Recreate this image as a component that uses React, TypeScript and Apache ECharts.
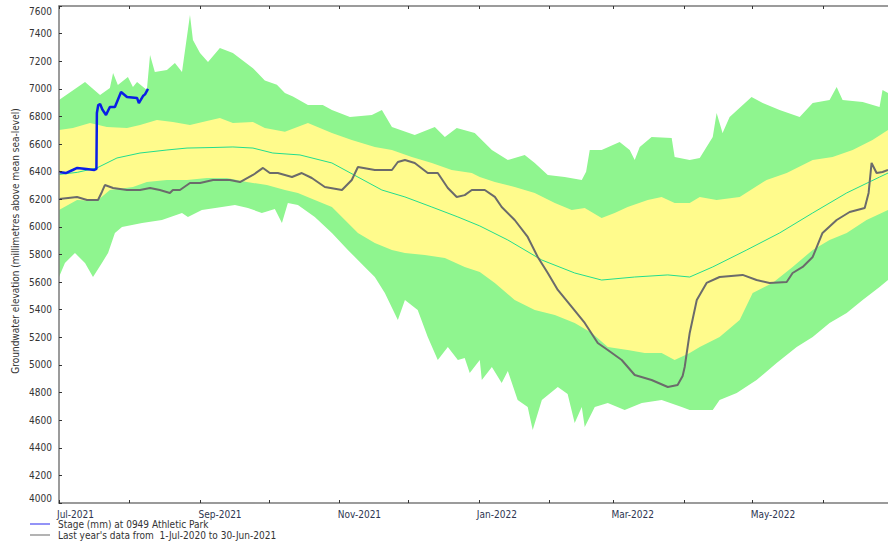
import React, { useEffect, useRef } from "react";
import * as echarts from "echarts";

// x values are days since 1-Jul-2021
const monthStarts = [0, 31, 62, 92, 123, 153, 184, 215, 243, 274, 304, 335];
const monthLabels = ["Jul-2021", "Aug-2021", "Sep-2021", "Oct-2021", "Nov-2021", "Dec-2021", "Jan-2022", "Feb-2022", "Mar-2022", "Apr-2022", "May-2022", "Jun-2022"];
const labelledMonths = [0, 62, 123, 184, 243, 304];

const greenUpper: [number, number][] = [
  [0, 6919], [11.4, 7050], [18, 6955], [22.3, 7006], [23.7, 7115], [25.8, 7028], [30.2, 7086], [32.4, 7013],
  [34.2, 7050], [38.5, 6992], [39.9, 7245], [42, 7122], [47.3, 7136], [50.8, 7187], [53.9, 7122], [57.4, 7535],
  [58.7, 7354], [61.8, 7260], [65.3, 7194], [70.5, 7296], [76.2, 7260], [85, 7150], [90.2, 7060], [95.5, 7030],
  [99, 6970], [102.5, 6945], [109.1, 6883], [115.6, 6883], [119.6, 6847], [127.5, 6796], [137.1, 6811],
  [141.5, 6847], [145.9, 6724], [155.9, 6666], [164.7, 6724], [169.1, 6651], [174.3, 6716], [182.2, 6680],
  [189.7, 6557], [196.7, 6485], [204.1, 6521], [208.5, 6463], [214.2, 6376], [221.6, 6361], [229.1, 6340],
  [231, 6400], [232.6, 6557], [237.8, 6557], [245.7, 6615], [250.1, 6557], [252.3, 6485], [254.5, 6579],
  [259.7, 6651], [268.5, 6644], [269.8, 6506], [276.4, 6485], [280.8, 6499], [286.5, 6651], [288.2, 6825],
  [290.8, 6680], [293.9, 6796], [303.5, 6941], [308.4, 6897], [315.8, 6847], [324.6, 6796], [330.3, 6897],
  [337.7, 6919], [340.8, 7013], [343.4, 6919], [352.2, 6905], [359.6, 6868], [360.9, 6992], [363.3, 6970],
];

const yellowUpper: [number, number][] = [
  [0, 6702], [6.1, 6716], [13.6, 6753], [21, 6724], [29.8, 6716], [35.5, 6738], [42.9, 6774], [49.9, 6760],
  [57.4, 6738], [64.8, 6767], [70.5, 6789], [76.2, 6753], [85, 6760], [90.2, 6716], [99, 6690], [109.1, 6753],
  [119.6, 6680], [128.3, 6629], [138.4, 6579], [145.9, 6557], [154.6, 6506], [163.4, 6463], [172.1, 6412],
  [180.9, 6390], [184.4, 6361], [191, 6325], [199.7, 6289], [208.5, 6246], [217.3, 6173], [224.7, 6122],
  [230.4, 6137], [237.8, 6064], [243.5, 6101], [249.2, 6144], [258, 6195], [264.1, 6217], [269.8, 6173],
  [276.4, 6173], [280.8, 6217], [288.2, 6195], [298.3, 6217], [310.1, 6340], [318.9, 6390], [330.3, 6485],
  [339, 6506], [347.8, 6557], [356.5, 6629], [363.3, 6702],
];

const yellowLower: [number, number][] = [
  [0, 6122], [7.9, 6195], [16.6, 6188], [22.3, 6267], [32.4, 6289], [38.5, 6325], [47.3, 6340], [56.1, 6340],
  [64.8, 6354], [73.6, 6354], [82.3, 6325], [91.1, 6303], [99, 6267], [104.7, 6246], [112.1, 6195],
  [119.6, 6144], [125.3, 6050], [131, 5956], [138.4, 5883], [145.9, 5833], [151.6, 5811], [160.3, 5797],
  [169.1, 5775], [177.8, 5710], [184.4, 5673], [191, 5594], [199.7, 5471], [208.5, 5398], [217.3, 5362],
  [226, 5304], [233.5, 5232], [240.5, 5130], [249.2, 5108], [256.7, 5087], [264.1, 5087], [269.8, 5036],
  [276.4, 5087], [280.8, 5130], [289.5, 5203], [298.3, 5326], [304, 5521], [312.7, 5594], [321.5, 5710],
  [330.3, 5833], [337.7, 5905], [345.2, 5956], [353.9, 6050], [363.3, 6122],
];

const greenLower: [number, number][] = [
  [0, 5637], [2.6, 5739], [7, 5811], [11.4, 5739], [14.9, 5637], [18.8, 5739], [21.5, 5811], [24.5, 5956],
  [27.6, 5999], [36.4, 6028], [45.1, 6050], [53.9, 6101], [56.5, 6072], [62.6, 6122], [71.4, 6144],
  [77.1, 6159], [82.8, 6137], [88.9, 6101], [94.6, 6130], [97.7, 6028], [100.3, 6173], [104.7, 6159],
  [112.1, 6072], [119.6, 5956], [126.6, 5833], [134, 5710], [138.4, 5637], [142.8, 5521], [148.5, 5326],
  [151.6, 5471], [157.2, 5398], [161.6, 5203], [166, 5036], [170.4, 5130], [174.8, 5036], [177.8, 5050],
  [180, 4942], [184.4, 5036], [185.3, 4891], [189.7, 4985], [194, 4869], [196.7, 4956], [201, 4746],
  [205.4, 4696], [207.6, 4529], [211.6, 4746], [218.6, 4840], [222.9, 4790], [226, 4580], [229.1, 4696],
  [230.4, 4551], [234.8, 4696], [240.5, 4724], [247.9, 4674], [255.4, 4724], [264.1, 4746], [272.9, 4696],
  [276.4, 4674], [286.5, 4674], [289.5, 4746], [297, 4797], [305.7, 4891], [314.5, 5014], [323.3, 5130],
  [330.3, 5203], [337.7, 5304], [345.2, 5376], [352.2, 5471], [359.6, 5565], [363.3, 5615],
];

const median: [number, number][] = [
  [0, 6380], [8, 6395], [16.6, 6427], [25.4, 6499], [35.5, 6535], [47.3, 6557], [56.1, 6571], [67.5, 6575],
  [76.2, 6579], [85, 6571], [93.7, 6535], [105.6, 6521], [119.6, 6463], [131, 6361], [141.5, 6267],
  [151.6, 6217], [163.4, 6144], [174.8, 6072], [184.4, 6007], [196.7, 5905], [211.6, 5760], [226, 5666],
  [237.8, 5615], [252.3, 5637], [266.8, 5652], [276.4, 5637], [286.5, 5710], [301.4, 5833], [315.8, 5956],
  [330.3, 6101], [345.2, 6246], [359.6, 6361], [363.3, 6390],
];

const lastYear: [number, number][] = [
  [0, 6202], [4, 6210], [7.9, 6217], [12.3, 6195], [17.1, 6195], [18.8, 6253], [20.1, 6303], [23.7, 6282],
  [29.8, 6267], [35.5, 6267], [39.9, 6282], [44.2, 6267], [48.6, 6246], [49.9, 6267], [53, 6267], [57.4, 6318],
  [61.8, 6318], [67.5, 6340], [74.9, 6340], [79.3, 6325], [85, 6376], [89.4, 6427], [92.4, 6390], [95.9, 6390],
  [102.1, 6361], [106.4, 6390], [110.8, 6354], [116.5, 6289], [124, 6267], [128.3, 6340], [131, 6434],
  [138.4, 6412], [145.9, 6412], [148.5, 6470], [151.6, 6485], [155.9, 6463], [161.6, 6390], [166, 6390],
  [170.4, 6282], [174.3, 6217], [177.8, 6230], [180.9, 6267], [186.6, 6267], [191, 6217], [194, 6144],
  [199.7, 6050], [205.4, 5927], [209.8, 5782], [214.2, 5666], [218.6, 5543], [224.7, 5420], [230.4, 5304],
  [236.1, 5159], [240.5, 5108], [246.6, 5036], [252.3, 4927], [259.7, 4891], [266.8, 4840], [271.1, 4855],
  [273.3, 4920], [274.2, 4985], [276.4, 5232], [279.5, 5471], [283.8, 5594], [289.5, 5637], [299.6, 5652],
  [305.7, 5615], [311.4, 5594], [318.9, 5601], [321.5, 5666], [325.9, 5710], [330.3, 5782], [334.6, 5956],
  [340.8, 6050], [346.5, 6108], [353.1, 6137], [354.8, 6246], [356.1, 6463], [358.3, 6390], [360.9, 6398],
  [363.3, 6412],
];

const stage: [number, number][] = [
  [0, 6398], [3, 6390], [6, 6412], [8, 6427], [12, 6420], [15.5, 6412], [16.4, 6420], [16.6, 6825],
  [17.2, 6883], [18, 6890], [19, 6850], [20.6, 6811], [22.3, 6868], [24.5, 6868], [26.3, 6941], [27.2, 6977],
  [29.8, 6941], [34.2, 6934], [35, 6897], [36.8, 6948], [37.7, 6960], [39, 7000],
];

const stageName = "Stage (mm) at 0949 Athletic Park";
const lastYearName = "Last year's data from  1-Jul-2020 to 30-Jun-2021";
const yTitle = "Groundwater elevation (millimetres above mean sea-level)";

const FONT = '"DejaVu Sans Condensed", "Liberation Sans", sans-serif';
const GREEN = "#8ff58f";
const YELLOW = "#fffb8c";

function band(name: string, data: [number, number][], color: string) {
  return {
    name,
    type: "line",
    data,
    symbol: "none",
    silent: true,
    lineStyle: { width: 0, opacity: 0 },
    areaStyle: { color, opacity: 1, origin: "start" },
    z: 1,
  };
}

function legendFor(name: string, top: number) {
  return {
    data: [name],
    left: 30,
    top,
    padding: 0,
    icon: "rect",
    itemWidth: 20,
    itemHeight: 1.5,
    selectedMode: false,
    textStyle: { fontFamily: FONT, fontSize: 10, color: "#333", padding: [0, 0, 0, 3] },
  };
}

export default function App() {
  const ref = useRef<HTMLDivElement>(null);
  useEffect(() => {
    if (!ref.current) return;
    const chart = echarts.init(ref.current, null, { renderer: "svg" });
    const axisColor = "#7a7a7a";
    chart.setOption({
      animation: false,
      backgroundColor: "#ffffff",
      grid: { left: 59, right: 0, top: 6, bottom: 42, show: false },
      legend: [legendFor(stageName, 519), legendFor(lastYearName, 530)],
      xAxis: [
        {
          type: "value",
          min: 0,
          max: 363.3,
          position: "bottom",
          z: 10,
          splitLine: { show: false },
          axisLine: { lineStyle: { color: axisColor, width: 1.5 } },
          axisTick: { inside: true, length: 3, customValues: monthStarts, lineStyle: { color: "#333" } },
          axisLabel: {
            customValues: labelledMonths,
            formatter: (v: number) => {
              const i = monthStarts.indexOf(Math.round(v));
              return i >= 0 ? monthLabels[i] : "";
            },
            align: "left",
            margin: 6,
            padding: [0, 0, 0, -2],
            fontFamily: FONT,
            fontSize: 10,
            color: "#2d3550",
          },
        },
        {
          type: "value",
          min: 0,
          max: 363.3,
          position: "top",
          z: 10,
          splitLine: { show: false },
          axisLine: { lineStyle: { color: axisColor, width: 1.5 } },
          axisTick: { inside: true, length: 3, customValues: monthStarts, lineStyle: { color: "#333" } },
          axisLabel: { show: false },
        },
      ],
      yAxis: {
        type: "value",
        min: 4000,
        max: 7600,
        interval: 200,
        z: 10,
        splitLine: { show: false },
        axisLine: { show: true, lineStyle: { color: axisColor, width: 1.5 } },
        axisTick: { show: true, inside: true, length: 3, lineStyle: { color: "#333" } },
        axisLabel: {
          margin: 7,
          formatter: (v: number) => String(v),
          fontFamily: FONT,
          fontSize: 10,
          color: "#333",
          verticalAlignMaxLabel: "top",
          verticalAlignMinLabel: "bottom",
        },
      },
      graphic: [
        {
          type: "text",
          x: 15,
          y: 241,
          rotation: Math.PI / 2,
          style: {
            text: yTitle,
            fontFamily: FONT,
            fontSize: 10,
            fill: "#333",
            align: "center",
            verticalAlign: "middle",
          },
        },
      ],
      series: [
        band("greenUpper", greenUpper, GREEN),
        band("yellowUpper", yellowUpper, YELLOW),
        band("yellowLower", yellowLower, GREEN),
        band("greenLower", greenLower, "#ffffff"),
        {
          name: "Median",
          type: "line",
          data: median,
          symbol: "none",
          lineStyle: { color: "#22dd8e", width: 1 },
          itemStyle: { color: "#22dd8e" },
          z: 3,
        },
        {
          name: lastYearName,
          type: "line",
          data: lastYear,
          symbol: "none",
          lineStyle: { color: "#6b6b6b", width: 2 },
          itemStyle: { color: "#9a9a9a" },
          z: 4,
        },
        {
          name: stageName,
          type: "line",
          data: stage,
          symbol: "none",
          lineStyle: { color: "#0a1ee6", width: 2.5 },
          itemStyle: { color: "#6f6ff5" },
          z: 5,
        },
      ],
    });
    return () => chart.dispose();
  }, []);
  return (
    <div
      ref={ref}
      style={{ position: "fixed", left: 0, top: 0, width: 888, height: 545, background: "#fff" }}
    />
  );
}
